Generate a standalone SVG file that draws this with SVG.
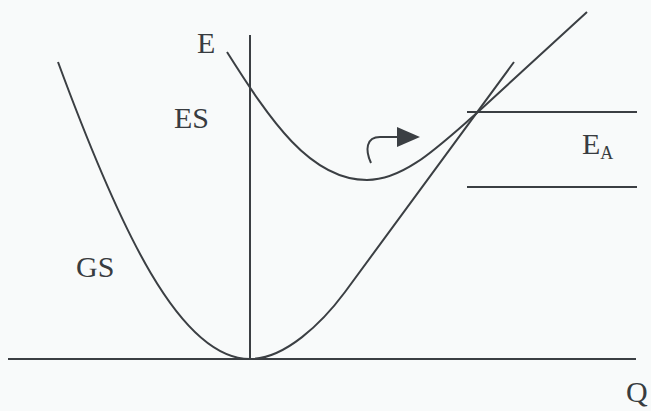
<svg xmlns="http://www.w3.org/2000/svg" width="651" height="411" viewBox="0 0 651 411">
  <style>
    .ln { fill: none; stroke: #3b3f43; stroke-width: 2; stroke-linecap: butt; }
    .lbl { font-family: "Liberation Serif", "Times New Roman", serif; font-size: 30px; fill: #383c40; }
    .sub { font-family: "Liberation Serif", "Times New Roman", serif; font-size: 18px; fill: #383c40; }
  </style>
  <rect x="0" y="0" width="651" height="411" fill="#f8fafa"/>
  <g id="axes">
    <line class="ln" x1="8" y1="359" x2="636" y2="359"/>
    <line class="ln" x1="250" y1="35" x2="250" y2="359"/>
  </g>
  <g id="levels">
    <line class="ln" x1="467" y1="112" x2="637" y2="112"/>
    <line class="ln" x1="467" y1="187" x2="637" y2="187"/>
  </g>
  <g id="curve-GS">
    <path class="ln" d="M58,62 C120,230 180,359 250,359"/>
    <path class="ln" d="M250,359 C285,359 322,323 345,292 L514,62"/>
  </g>
  <g id="curve-ES">
    <path class="ln" d="M227,52 C270,120 310,180 367,180 C405,180 440,145 478,112 L587,12"/>
  </g>
  <g id="arrow">
    <path class="ln" d="M371,163 C365,150 366,137 380,137 L400,137"/>
    <polygon points="397,127 420,137 397,147" fill="#3b3f43"/>
  </g>
  <g id="labels">
    <text class="lbl" x="197" y="53">E</text>
    <text class="lbl" x="174" y="128">ES</text>
    <text class="lbl" x="76" y="277">GS</text>
    <text class="lbl" x="582" y="154">E<tspan class="sub" dy="5">A</tspan></text>
    <text class="lbl" x="626" y="402">Q</text>
  </g>
</svg>
